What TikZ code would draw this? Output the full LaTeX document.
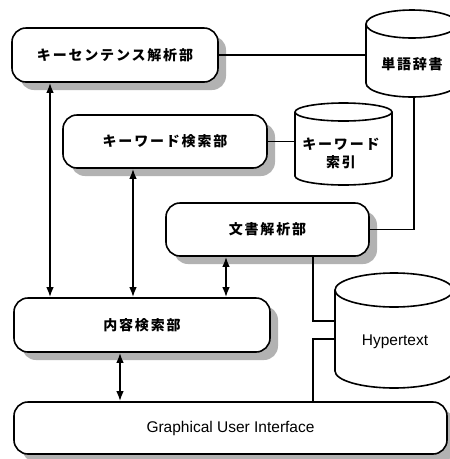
\documentclass[tikz,border=0pt]{standalone}
\usepackage{fontspec}
\setmainfont{Liberation Sans}
\newfontfamily\jp{Noto Sans CJK JP}[LetterSpace=13]
\usetikzlibrary{arrows.meta,shadows}
\begin{document}
\begin{tikzpicture}[x=1pt,y=-1pt,
  line width=1.6pt,
  box/.style={draw, fill=white, rounded corners=14pt, inner sep=0pt,
    font=\jp\bfseries\fontsize{14}{16}\selectfont,
    drop shadow={shadow xshift=8pt, shadow yshift=-8pt, fill=black!30, opacity=1}},
  guibox/.style={box, font=\fontsize{15.5}{18}\selectfont},
  jptext/.style={font=\jp\bfseries\fontsize{14}{16}\selectfont, inner sep=0pt},
  entext/.style={font=\fontsize{15.5}{18}\selectfont, inner sep=0pt},
  biarrow/.style={{Latex[length=10pt,width=7.5pt]}-{Latex[length=10pt,width=7.5pt]}},
  cyl/.style={draw, fill=white}]
\clip (0,0) rectangle (450,459);
\fill[white] (0,0) rectangle (450,459);

% boxes
\node[box, minimum width=206pt, minimum height=54pt] (ks) at (115,55) {キーセンテンス解析部};
\node[box, minimum width=204pt, minimum height=53pt] (kw) at (165,141.5) {キーワード検索部};
\node[box, minimum width=203pt, minimum height=53pt] (da) at (267.5,229.5) {文書解析部};
\node[box, minimum width=256pt, minimum height=54pt] (cs) at (142,325) {内容検索部};
\node[guibox, minimum width=433pt, minimum height=52pt] (gui) at (230.5,428) {Graphical User Interface};

% cylinder: 単語辞書
\draw[cyl] (366,24) -- (366,83) arc[start angle=180,end angle=360,x radius=46pt,y radius=14pt] -- (458,24);
\draw[cyl] (412,24) ellipse [x radius=46pt, y radius=14pt];
\node[jptext] (dict) at (412,64) {単語辞書};
\coordinate (dictW) at (366,55);
\coordinate (dictS) at (414,97);

% cylinder: キーワード索引
\draw[cyl] (295,112) -- (295,176) arc[start angle=180,end angle=360,x radius=48.5pt,y radius=9pt] -- (392,112);
\draw[cyl] (343.5,112) ellipse [x radius=48.5pt, y radius=9pt];
\node[jptext, align=center] (kidx) at (341,153) {キーワード\\[2pt]索引};
\coordinate (kidxW) at (295,141.5);

% cylinder: Hypertext
\draw[cyl] (335,290) -- (335,371) arc[start angle=180,end angle=360,x radius=59pt,y radius=17pt] -- (453,290);
\draw[cyl] (394,290) ellipse [x radius=59pt, y radius=17pt];
\node[entext] (hyp) at (395,342) {Hypertext};
\coordinate (hypA) at (335,321);
\coordinate (hypB) at (335,339);

% plain connectors
\draw (ks.east) -- (dictW);
\draw (kw.east) -- (kidxW);
\draw (dictS) |- (da.east);
\coordinate (v1) at (313,0);
\draw (v1 |- da.south) |- (hypA);
\draw (hypB) -| (v1 |- gui.north);

% double arrows
\coordinate (x1) at (50,0);
\coordinate (x2) at (133,0);
\coordinate (x3) at (226,0);
\coordinate (x4) at (120,0);
\draw[biarrow] (x1 |- ks.south) -- (x1 |- cs.north);
\draw[biarrow] (x2 |- kw.south) -- (x2 |- cs.north);
\draw[biarrow] (x3 |- da.south) -- (x3 |- cs.north);
\draw[biarrow] (x4 |- cs.south) -- (x4 |- gui.north);
\end{tikzpicture}
\end{document}
